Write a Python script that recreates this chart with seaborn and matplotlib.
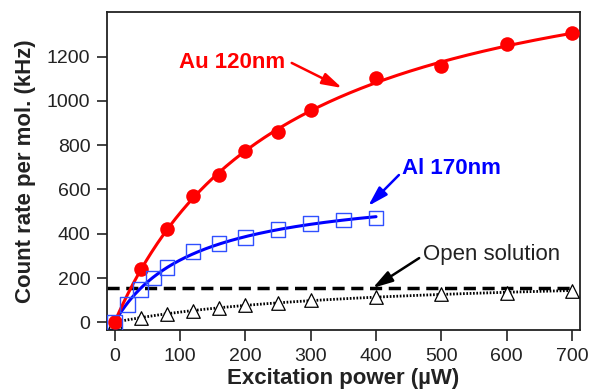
import numpy as np
import pandas as pd
import matplotlib
matplotlib.use("Agg")
import matplotlib.pyplot as plt
import seaborn as sns

# Measured count rate per molecule (kHz) versus excitation power (uW)
au_power = [0, 40, 80, 120, 160, 200, 250, 300, 400, 500, 600, 700]
au_rate = [0, 240, 420, 570, 665, 775, 858, 958, 1101, 1158, 1255, 1305]

al_power = [0, 20, 40, 60, 80, 120, 160, 200, 250, 300, 350, 400]
al_rate = [0, 81, 149, 201, 248, 319, 356, 384, 420, 445, 462, 470]

open_power = [0, 40, 80, 120, 160, 200, 250, 300, 400, 500, 600, 700]
open_rate = [0, 21, 37, 51, 66, 78, 86, 100, 116, 126, 134, 143]

open_level = 156  # dashed reference level for the open solution

x_ticks = [0, 100, 200, 300, 400, 500, 600, 700]
y_ticks = [0, 200, 400, 600, 800, 1000, 1200]


def saturation_fit(x, y, x_max):
    """Fit y = A * x / (x + Is) and return a smooth curve up to x_max."""
    x = np.asarray(x, float)
    y = np.asarray(y, float)
    best = None
    for s in np.linspace(5, 2000, 4000):
        f = x / (x + s)
        a = np.sum(y * f) / np.sum(f * f)
        r = np.sum((y - a * f) ** 2)
        if best is None or r < best[0]:
            best = (r, a, s)
    _, a, s = best
    xs = np.linspace(0, x_max, 300)
    return pd.DataFrame({"power": xs, "rate": a * xs / (xs + s)})


sns.set_theme(style="ticks")
plt.rcParams["font.family"] = ["Liberation Sans", "DejaVu Sans"]

fig = plt.figure(figsize=(5.89, 3.92), dpi=100)
ax = fig.add_axes([0.1817, 0.158, 0.803, 0.812])

RED = "#ff0000"
BLUE = "#0000ff"

au_df = pd.DataFrame({"power": au_power, "rate": au_rate})
al_df = pd.DataFrame({"power": al_power, "rate": al_rate})
open_df = pd.DataFrame({"power": open_power, "rate": open_rate})

# Open solution: dashed level, dotted fit, open triangles
ax.hlines(open_level, -11.5, 700, colors="black", linewidth=2.5,
          linestyles=(0, (3.5, 1.9)), zorder=2)
sns.lineplot(data=saturation_fit(open_power, open_rate, 700), x="power", y="rate",
             ax=ax, color="black", linewidth=2.0, linestyle=(0, (0.6, 0.6)), zorder=2)
sns.scatterplot(data=open_df, x="power", y="rate", ax=ax, marker="^", s=95,
                facecolor="white", edgecolor="black", linewidth=0.9, zorder=3)

# Al 170nm
sns.lineplot(data=saturation_fit(al_power, al_rate, 400), x="power", y="rate",
             ax=ax, color=BLUE, linewidth=2.2, zorder=4)
sns.scatterplot(data=al_df, x="power", y="rate", ax=ax, marker="s", s=110,
                facecolor="none", edgecolor="#3050ff", linewidth=1.0, zorder=7)

# Au 120nm
sns.lineplot(data=saturation_fit(au_power, au_rate, 700), x="power", y="rate",
             ax=ax, color=RED, linewidth=2.2, zorder=5)
sns.scatterplot(data=au_df, x="power", y="rate", ax=ax, marker="o", s=110,
                color=RED, edgecolor=RED, linewidth=0, zorder=6)

ax.set_xlim(-11.5, 712)
ax.set_ylim(-35, 1402)
ax.set_xticks(x_ticks)
ax.set_yticks(y_ticks)
ax.tick_params(axis="both", direction="out", length=8, width=1.2,
               labelsize=14, colors="#222222", pad=5)
ax.tick_params(axis="y", length=7)
for side in ["left", "right", "top", "bottom"]:
    ax.spines[side].set_visible(True)
    ax.spines[side].set_linewidth(1.3)
    ax.spines[side].set_color("#222222")

ax.set_xlabel("Excitation power (µW)", fontsize=16, fontweight="bold",
              color="#222222", labelpad=2)
ax.set_ylabel("Count rate per mol. (kHz)", fontsize=16, fontweight="bold",
              color="#222222", labelpad=8)

arrow_style = "-|>,head_length=0.75,head_width=0.22"

ax.annotate("", xy=(348, 1058), xytext=(271, 1171),
            arrowprops=dict(arrowstyle=arrow_style, color=RED, lw=1.8,
                            mutation_scale=16, shrinkA=0, shrinkB=0))
ax.text(180, 1175, "Au 120nm", color=RED, fontsize=16, fontweight="bold",
        ha="center", va="center")

ax.annotate("", xy=(388, 525), xytext=(435, 665),
            arrowprops=dict(arrowstyle=arrow_style, color=BLUE, lw=1.8,
                            mutation_scale=16, shrinkA=0, shrinkB=0))
ax.text(516, 696, "Al 170nm", color=BLUE, fontsize=16, fontweight="bold",
        ha="center", va="center")

ax.annotate("", xy=(395, 155), xytext=(466, 290),
            arrowprops=dict(arrowstyle=arrow_style, color="black", lw=1.8,
                            mutation_scale=16, shrinkA=0, shrinkB=0))
ax.text(577, 308, "Open solution", color="#222222", fontsize=16,
        ha="center", va="center")

fig.savefig("out.png", dpi=100)
